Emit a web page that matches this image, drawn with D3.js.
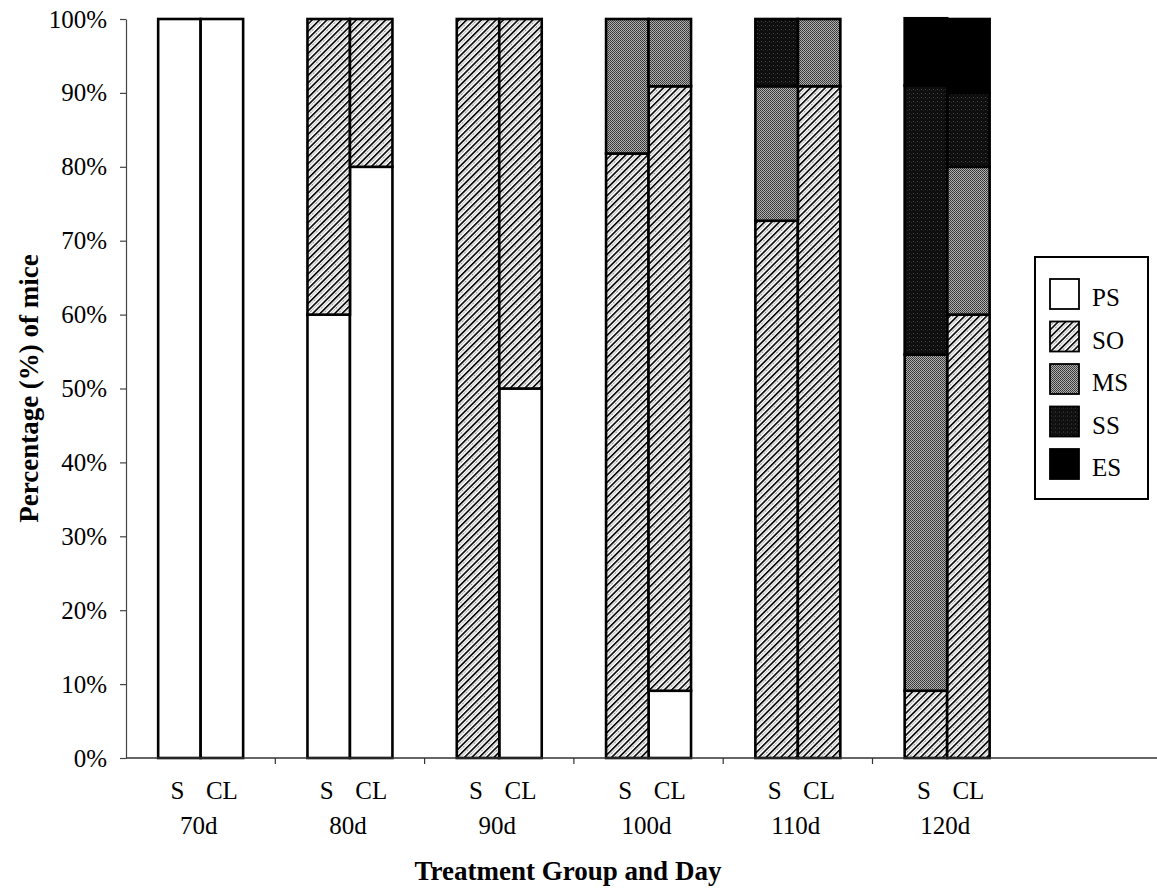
<!DOCTYPE html>
<html>
<head>
<meta charset="utf-8">
<script src="https://cdn.jsdelivr.net/npm/d3@7"></script>
<style>
  html, body { margin: 0; padding: 0; background: #fff; }
  svg { display: block; font-family: "Liberation Serif", "Times New Roman", serif; }
</style>
</head>
<body>
<svg id="chart" width="1157" height="890"></svg>
<script>
// Days of observation and treatment groups
const days = ["70d", "80d", "90d", "100d", "110d", "120d"];
const groups = ["S", "CL"];
const stages = ["PS", "SO", "MS", "SS", "ES"];

// Percentage of mice per stage, one value per bar (S, CL for each day)
const PS = [100, 100, 60, 80, 0, 50, 0, 9.1, 0, 0, 0, 0];
const SO = [0, 0, 40, 20, 100, 50, 81.8, 81.8, 72.7, 90.9, 9.1, 60];
const MS = [0, 0, 0, 0, 0, 0, 18.2, 9.1, 18.2, 9.1, 45.5, 20];
const SS = [0, 0, 0, 0, 0, 0, 0, 0, 9.1, 0, 36.4, 10];
const ES = [0, 0, 0, 0, 0, 0, 0, 0, 0, 0, 9.1, 10];

const yTicks = [0, 10, 20, 30, 40, 50, 60, 70, 80, 90, 100];

const seriesByStage = { PS, SO, MS, SS, ES };

// One row per bar
const rows = [];
days.forEach((d, i) => {
  groups.forEach((g, j) => {
    const k = i * groups.length + j;
    const row = { day: d, group: g };
    stages.forEach(s => { row[s] = seriesByStage[s][k]; });
    rows.push(row);
  });
});

const svg = d3.select("#chart");
const W = 1157;
const plotLeft = 126, plotTop = 19, plotBottom = 758;
const step = 149.3;

const x = d3.scaleBand().domain(days).range([plotLeft, plotLeft + step * days.length]).paddingInner(0).paddingOuter(0);
const xs = d3.scaleBand().domain(groups).range([0, x.bandwidth()]).paddingInner(0).paddingOuter(0.757);
const y = d3.scaleLinear().domain([0, 100]).range([plotBottom, plotTop]);

// Fill patterns
const defs = svg.append("defs");

const so = defs.append("pattern").attr("id", "pat-SO")
  .attr("patternUnits", "userSpaceOnUse").attr("width", 5.2).attr("height", 10)
  .attr("patternTransform", "rotate(45)");
so.append("rect").attr("width", 5.2).attr("height", 10).attr("fill", "#fff");
so.append("rect").attr("x", 0).attr("width", 1.6).attr("height", 10).attr("fill", "#000");
so.append("line").attr("x1", 3.2).attr("x2", 3.2).attr("y1", 0).attr("y2", 10)
  .attr("stroke", "#777").attr("stroke-width", 0.9).attr("stroke-dasharray", "1.2,1");

const ms = defs.append("pattern").attr("id", "pat-MS")
  .attr("patternUnits", "userSpaceOnUse").attr("width", 2).attr("height", 2);
ms.append("rect").attr("width", 2).attr("height", 2).attr("fill", "#b0b0b0");
ms.append("rect").attr("width", 1).attr("height", 1).attr("fill", "#333");
ms.append("rect").attr("x", 1).attr("y", 1).attr("width", 1).attr("height", 1).attr("fill", "#444");

const ss = defs.append("pattern").attr("id", "pat-SS")
  .attr("patternUnits", "userSpaceOnUse").attr("width", 4).attr("height", 4);
ss.append("rect").attr("width", 4).attr("height", 4).attr("fill", "#0e0e0e");
ss.append("rect").attr("x", 1).attr("y", 1).attr("width", 1).attr("height", 1).attr("fill", "#4a4a4a");
ss.append("rect").attr("x", 3).attr("y", 2).attr("width", 1).attr("height", 1).attr("fill", "#2a2a2a");

const fills = { PS: "#ffffff", SO: "url(#pat-SO)", MS: "url(#pat-MS)", SS: "url(#pat-SS)", ES: "#000000" };

// Stacked bars
const stack = d3.stack().keys(stages);
const layers = stack(rows);

const barG = svg.append("g");
layers.forEach(layer => {
  barG.append("g").selectAll("rect")
    .data(layer.filter(d => d[1] - d[0] > 0))
    .join("rect")
    .attr("x", d => x(d.data.day) + xs(d.data.group))
    .attr("width", xs.bandwidth())
    .attr("y", d => y(d[1]))
    .attr("height", d => y(d[0]) - y(d[1]))
    .attr("fill", fills[layer.key])
    .attr("stroke", "#000")
    .attr("stroke-width", 2.6);
});

// Y axis
const yAxis = d3.axisLeft(y).tickValues(yTicks).tickFormat(d => d + "%")
  .tickSize(6).tickSizeOuter(0).tickPadding(13);
const yg = svg.append("g").attr("transform", `translate(${plotLeft},0)`).call(yAxis);
yg.select(".domain").attr("stroke", "#444").attr("stroke-width", 1.2);
yg.selectAll(".tick line").attr("stroke", "#444").attr("stroke-width", 1.2);
yg.selectAll(".tick text").attr("fill", "#000").attr("font-size", 25)
  .attr("font-family", "Liberation Serif, serif");

// X axis line and boundary ticks
svg.append("line").attr("x1", plotLeft).attr("x2", W).attr("y1", plotBottom).attr("y2", plotBottom)
  .attr("stroke", "#333").attr("stroke-width", 1.4);
svg.append("g").selectAll("line")
  .data(days.slice(1))
  .join("line")
  .attr("x1", d => x(d)).attr("x2", d => x(d))
  .attr("y1", plotBottom).attr("y2", plotBottom + 6)
  .attr("stroke", "#333").attr("stroke-width", 1.2);

// Group and day labels
svg.append("g").selectAll("text")
  .data(rows)
  .join("text")
  .attr("x", d => x(d.day) + xs(d.group) + xs.bandwidth() / 2 + (d.group === "S" ? -2 : 0))
  .attr("y", 799)
  .attr("text-anchor", "middle")
  .attr("font-size", 25)
  .text(d => d.group);

svg.append("g").selectAll("text")
  .data(days)
  .join("text")
  .attr("x", d => x(d) + x.bandwidth() / 2 - 2)
  .attr("y", 834)
  .attr("text-anchor", "middle")
  .attr("font-size", 25)
  .text(d => d);

// Axis titles
svg.append("text")
  .attr("x", 568).attr("y", 880)
  .attr("text-anchor", "middle")
  .attr("font-size", 27).attr("font-weight", "bold")
  .text("Treatment Group and Day");

svg.append("text")
  .attr("transform", `translate(38,${(plotTop + plotBottom) / 2}) rotate(-90)`)
  .attr("text-anchor", "middle")
  .attr("font-size", 27).attr("font-weight", "bold")
  .text("Percentage (%) of mice");

// Legend
const lg = svg.append("g");
lg.append("rect").attr("x", 1035).attr("y", 257).attr("width", 113).attr("height", 242)
  .attr("fill", "#fff").attr("stroke", "#000").attr("stroke-width", 2);
const items = lg.selectAll("g.item").data(stages).join("g").attr("class", "item")
  .attr("transform", (d, i) => `translate(1050,${279 + i * 42.5})`);
items.append("rect").attr("width", 29).attr("height", 30)
  .attr("fill", d => fills[d]).attr("stroke", "#000").attr("stroke-width", 1.8);
items.append("text").attr("x", 42).attr("y", 27)
  .attr("font-size", 25).text(d => d);
</script>
</body>
</html>
